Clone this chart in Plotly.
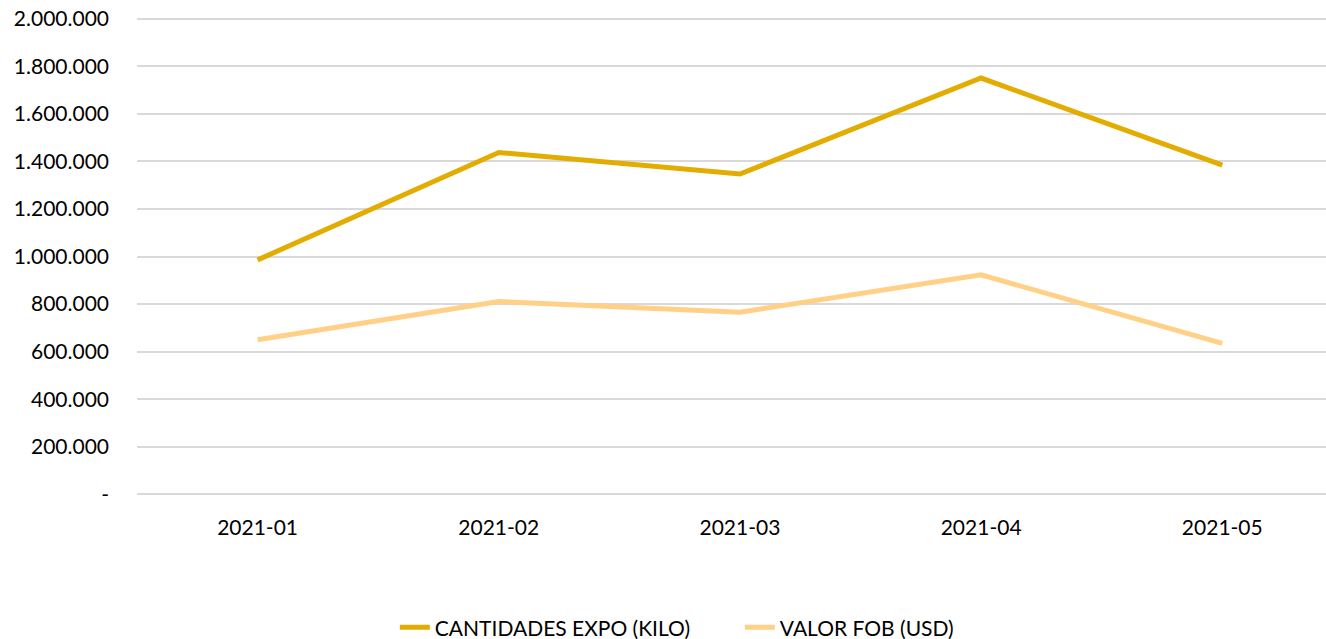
import plotly.graph_objects as go

meses = ["2021-01", "2021-02", "2021-03", "2021-04", "2021-05"]
cantidades_kilo = [986000, 1438000, 1347000, 1751000, 1385000]
valor_fob_usd = [650000, 811000, 766000, 923000, 635000]

y_ticks = [0, 200000, 400000, 600000, 800000, 1000000, 1200000, 1400000, 1600000, 1800000, 2000000]
y_labels = ["-", "200.000", "400.000", "600.000", "800.000", "1.000.000",
            "1.200.000", "1.400.000", "1.600.000", "1.800.000", "2.000.000"]

fig = go.Figure()
fig.add_trace(go.Scatter(x=meses, y=cantidades_kilo, mode="lines", name="CANTIDADES EXPO (KILO)",
                         line=dict(color="#E2AC00", width=5)))
fig.add_trace(go.Scatter(x=meses, y=valor_fob_usd, mode="lines", name="VALOR FOB (USD)",
                         line=dict(color="#FFD086", width=5)))

fig.update_layout(
    width=1326, height=639,
    margin=dict(l=137, r=0, t=16, b=144, autoexpand=False),
    paper_bgcolor="white", plot_bgcolor="white",
    font=dict(family="Lato", size=21, color="#000000"),
    legend=dict(orientation="h", x=0.507, xanchor="center", y=-0.277, yanchor="middle",
                font=dict(size=21), entrywidth=300),
    showlegend=True,
)
fig.update_xaxes(type="category", range=[-0.5, 4.43], showgrid=False, zeroline=False,
                 showline=False, ticks="", ticklabelstandoff=18)
# top of range a little above 2M so its gridline is not dropped at the edge
fig.update_yaxes(range=[-3000, 2012000], tickvals=y_ticks, ticktext=y_labels,
                 showgrid=True, gridcolor="#D9D9D9", gridwidth=1.5,
                 zeroline=True, zerolinecolor="#D9D9D9", zerolinewidth=1.5,
                 showline=False, ticks="", ticklabelstandoff=27, ticklabeloverflow="allow")

# drop the default 8px body margin so the figure fills the window
fig.write_html("out.html", config={"displayModeBar": False},
               post_script="document.body.style.margin='0';")
